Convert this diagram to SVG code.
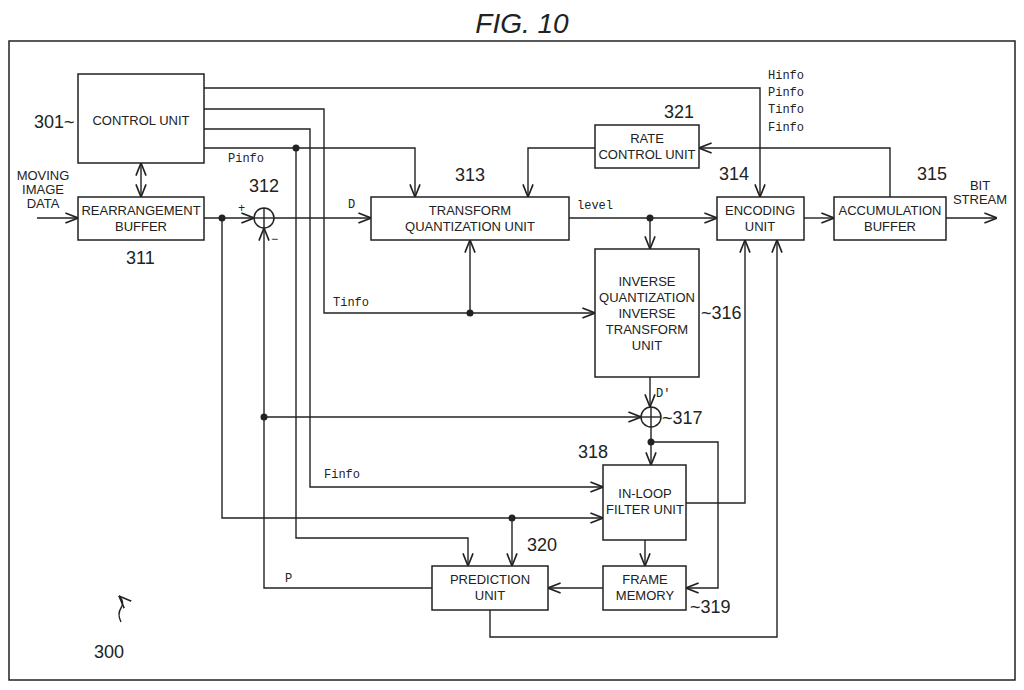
<svg xmlns="http://www.w3.org/2000/svg" width="1024" height="690" viewBox="0 0 1024 690">
<style>
.b{fill:#fff;stroke:#222;stroke-width:1.5}
.t{font-family:"Liberation Sans",Arial,sans-serif;font-size:13px;fill:#222;text-anchor:middle}
.n{font-family:"Liberation Sans",Arial,sans-serif;font-size:18px;fill:#222}
.m{font-family:"Liberation Mono",monospace;font-size:12px;fill:#222}
#c path,#c line{fill:none;stroke:#222;stroke-width:1.4}
</style>
<defs><marker id="a" viewBox="0 0 10 10" refX="10" refY="5" markerWidth="9" markerHeight="9" orient="auto-start-reverse"><path d="M0,1 L10,5 L0,9" fill="none" stroke="#222" stroke-width="1.3"/></marker></defs>
<rect width="1024" height="690" fill="#fff"/>
<text x="522" y="33" font-family="Liberation Sans,Arial,sans-serif" font-size="28" font-style="italic" text-anchor="middle" fill="#222">FIG. 10</text>
<rect x="9" y="41" width="1006" height="639" fill="none" stroke="#222" stroke-width="1.5"/>
<g id="c">
<path d="M204,88 H760 V197" marker-end="url(#a)"/>
<path d="M204,109 H324 V313 H595" marker-end="url(#a)"/>
<path d="M470,313 V240" marker-end="url(#a)"/>
<path d="M204,129 H310 V487 H603" marker-end="url(#a)"/>
<path d="M204,148 H415 V197" marker-end="url(#a)"/>
<path d="M296,148 V538 H468 V566" marker-end="url(#a)"/>
<path d="M141,163 V197" marker-start="url(#a)" marker-end="url(#a)"/>
<path d="M37,218 H78" marker-end="url(#a)"/>
<path d="M204,218 H254" marker-end="url(#a)"/>
<path d="M274,218 H371" marker-end="url(#a)"/>
<path d="M222,218 V518 H603" marker-end="url(#a)"/>
<path d="M512,518 V566" marker-end="url(#a)"/>
<path d="M432,588 H264 V228" marker-end="url(#a)"/>
<path d="M264,417 H641" marker-end="url(#a)"/>
<path d="M569,218 H717" marker-end="url(#a)"/>
<path d="M650,218 V249" marker-end="url(#a)"/>
<path d="M650,377 V407" marker-end="url(#a)"/>
<path d="M651,427 V465" marker-end="url(#a)"/>
<path d="M651,442 H718 V588 H686" marker-end="url(#a)"/>
<path d="M686,503 H745 V240" marker-end="url(#a)"/>
<path d="M645,540 V566" marker-end="url(#a)"/>
<path d="M603,588 H548" marker-end="url(#a)"/>
<path d="M490,610 V637 H777 V240" marker-end="url(#a)"/>
<path d="M804,218 H834" marker-end="url(#a)"/>
<path d="M946,218 H997" marker-end="url(#a)"/>
<path d="M890,197 V148 H699" marker-end="url(#a)"/>
<path d="M595,148 H528 V197" marker-end="url(#a)"/>
<circle cx="264" cy="218" r="10" fill="none" stroke="#222" stroke-width="1.5"/>
<line x1="254" y1="218" x2="274" y2="218"/><line x1="264" y1="208" x2="264" y2="228"/>
<circle cx="651" cy="417" r="10" fill="none" stroke="#222" stroke-width="1.5"/>
<line x1="641" y1="417" x2="661" y2="417"/><line x1="651" y1="407" x2="651" y2="427"/>
<g fill="#222"><circle cx="296" cy="148" r="3.5"/><circle cx="222" cy="218" r="3.5"/><circle cx="470" cy="313" r="3.5"/><circle cx="650" cy="218" r="3.5"/><circle cx="264" cy="417" r="3.5"/><circle cx="651" cy="442" r="3.5"/><circle cx="512" cy="518" r="3.5"/></g>
<path d="M121,622 Q117,614 121,608 Q125,602 119,596" marker-end="url(#a)"/>
</g>
<g id="n301"><rect class="b" x="78" y="74" width="126" height="89"/><text class="t" x="141" y="125">CONTROL UNIT</text><text class="n" x="34" y="128">301~</text></g>
<g id="n311"><rect class="b" x="78" y="197" width="126" height="43"/><text class="t" x="141" y="215">REARRANGEMENT</text><text class="t" x="141" y="231">BUFFER</text><text class="n" x="126" y="264">311</text></g>
<g id="n313"><rect class="b" x="371" y="197" width="198" height="43"/><text class="t" x="470" y="215">TRANSFORM</text><text class="t" x="470" y="231">QUANTIZATION UNIT</text><text class="n" x="455" y="181">313</text></g>
<g id="n321"><rect class="b" x="595" y="125" width="104" height="43"/><text class="t" x="647" y="143">RATE</text><text class="t" x="647" y="159">CONTROL UNIT</text><text class="n" x="664" y="118">321</text></g>
<g id="n314"><rect class="b" x="717" y="197" width="87" height="43"/><text class="t" x="760" y="215">ENCODING</text><text class="t" x="760" y="231">UNIT</text><text class="n" x="719" y="180">314</text></g>
<g id="n315"><rect class="b" x="834" y="197" width="112" height="43"/><text class="t" x="890" y="215">ACCUMULATION</text><text class="t" x="890" y="231">BUFFER</text><text class="n" x="917" y="180">315</text></g>
<g id="n316"><rect class="b" x="595" y="249" width="104" height="128"/><text class="t" x="647" y="286">INVERSE</text><text class="t" x="647" y="302">QUANTIZATION</text><text class="t" x="647" y="318">INVERSE</text><text class="t" x="647" y="334">TRANSFORM</text><text class="t" x="647" y="350">UNIT</text><text class="n" x="701" y="319">~316</text></g>
<g id="n318"><rect class="b" x="603" y="465" width="83" height="75"/><text class="t" x="645" y="498">IN-LOOP</text><text class="t" x="645" y="514">FILTER UNIT</text><text class="n" x="578" y="458">318</text></g>
<g id="n319"><rect class="b" x="603" y="566" width="83" height="44"/><text class="t" x="645" y="584">FRAME</text><text class="t" x="645" y="600">MEMORY</text><text class="n" x="690" y="613">~319</text></g>
<g id="n320"><rect class="b" x="432" y="566" width="116" height="44"/><text class="t" x="490" y="584">PREDICTION</text><text class="t" x="490" y="600">UNIT</text><text class="n" x="527" y="551">320</text></g>
<g id="labels">
<text class="t" x="43" y="180">MOVING</text><text class="t" x="43" y="194">IMAGE</text><text class="t" x="43" y="208">DATA</text>
<text class="t" x="980" y="190">BIT</text><text class="t" x="980" y="204">STREAM</text>
<text class="m" x="768" y="79">Hinfo</text><text class="m" x="768" y="96">Pinfo</text><text class="m" x="768" y="113">Tinfo</text><text class="m" x="768" y="131">Finfo</text>
<text class="m" x="228" y="162">Pinfo</text><text class="m" x="333" y="306">Tinfo</text><text class="m" x="324" y="478">Finfo</text>
<text class="m" x="285" y="582">P</text><text class="m" x="348" y="208">D</text><text class="m" x="577" y="209">level</text><text class="m" x="656" y="397">D'</text>
<text class="m" x="238" y="212">+</text><text class="m" x="271" y="243">−</text>
<text class="n" x="249" y="192">312</text><text class="n" x="662" y="424">~317</text>
<text class="n" x="94" y="658">300</text>
</g>
</svg>
